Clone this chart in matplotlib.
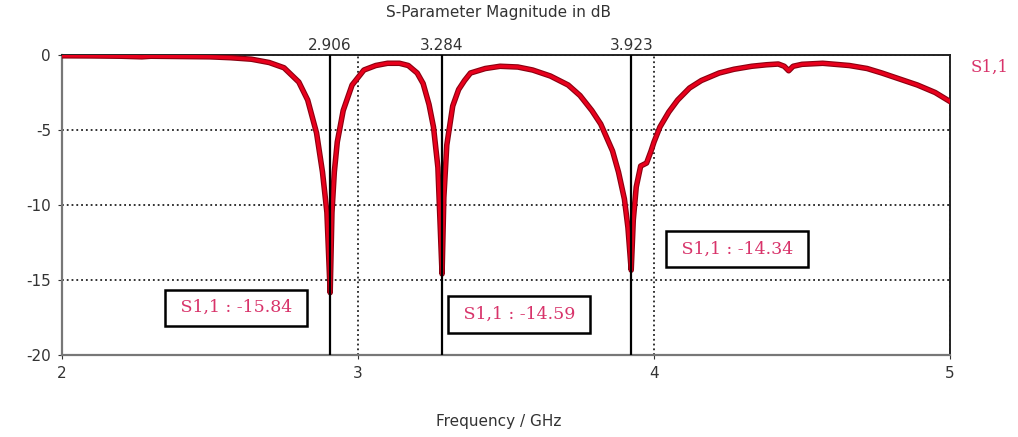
import matplotlib.pyplot as plt

plt.rcParams["axes.unicode_minus"] = False

# S1,1 magnitude (GHz, dB)
freq = [2.00, 2.10, 2.20, 2.27, 2.30, 2.40, 2.50, 2.57, 2.64, 2.70, 2.75, 2.80,
        2.83, 2.86, 2.88, 2.895, 2.906, 2.912, 2.92, 2.93, 2.95, 2.98, 3.02,
        3.06, 3.10, 3.14, 3.17, 3.20, 3.22, 3.24, 3.255, 3.27, 3.284, 3.29,
        3.30, 3.32, 3.34, 3.36, 3.38, 3.43, 3.48, 3.54, 3.59, 3.65, 3.71, 3.75,
        3.79, 3.82, 3.84, 3.86, 3.88, 3.90, 3.912, 3.923, 3.93, 3.94, 3.955,
        3.975, 3.99, 4.00, 4.02, 4.05, 4.08, 4.12, 4.16, 4.22, 4.27, 4.33,
        4.38, 4.42, 4.44, 4.455, 4.47, 4.50, 4.57, 4.66, 4.72, 4.77, 4.83,
        4.89, 4.95, 5.00]
s11 = [-0.05, -0.06, -0.08, -0.12, -0.08, -0.10, -0.12, -0.18, -0.28, -0.5,
       -0.85, -1.8, -3.0, -5.2, -7.8, -10.5, -15.84, -10.5, -7.8, -5.8, -3.7,
       -2.0, -1.0, -0.7, -0.55, -0.55, -0.7, -1.2, -1.9, -3.3, -4.8, -7.5,
       -14.59, -9.5, -6.0, -3.4, -2.3, -1.7, -1.2, -0.9, -0.75, -0.8, -1.0,
       -1.4, -2.0, -2.7, -3.7, -4.6, -5.5, -6.4, -7.8, -9.6, -11.5, -14.34,
       -11.0, -8.8, -7.4, -7.2, -6.4, -5.8, -4.8, -3.8, -3.0, -2.2, -1.7,
       -1.2, -0.95, -0.75, -0.65, -0.6, -0.75, -1.05, -0.75, -0.62, -0.55,
       -0.7, -0.9, -1.2, -1.6, -2.0, -2.5, -3.1]

marker_freq = [2.906, 3.284, 3.923]
marker_db = [-15.84, -14.59, -14.34]
# label box centres in data units
label_pos = [(2.588, -16.85), (3.545, -17.3), (4.28, -12.95)]

x_ticks = [2, 3, 4, 5]
y_ticks = [0, -5, -10, -15, -20]

LABEL_COLOR = "#d8336a"

fig = plt.figure(figsize=(10.18, 4.37), dpi=100)
ax = fig.add_axes([0.0609, 0.1876, 0.8723, 0.6865])

ax.set_xlim(2, 5)
ax.set_ylim(-20, 0)
ax.set_xticks(x_ticks)
ax.set_yticks(y_ticks)
ax.tick_params(length=3, labelsize=11, colors="#333333", pad=5)
ax.grid(True, ls=":", color="#222222", lw=1.3)

for side in ("left", "bottom"):
    ax.spines[side].set_color("#777777")
    ax.spines[side].set_linewidth(1.6)
for side in ("top", "right"):
    ax.spines[side].set_color("#222222")
    ax.spines[side].set_linewidth(1.4)

ax.plot(freq, s11, color="#8a0010", lw=4.0, solid_joinstyle="round", zorder=3)
ax.plot(freq, s11, color="#e8001c", lw=2.4, solid_joinstyle="round", zorder=4)

for f, db, (lx, ly) in zip(marker_freq, marker_db, label_pos):
    ax.axvline(f, color="black", lw=1.6, zorder=5)
    ax.text(f, 0.15, f"{f:.3f}", ha="center", va="bottom", fontsize=11,
            color="#333333")
    ax.text(lx, ly, f" S1,1 : {db:.2f} ", ha="center", va="center",
            fontsize=12.5, family="DejaVu Serif", color=LABEL_COLOR, zorder=6,
            bbox=dict(boxstyle="square,pad=0.55", fc="white", ec="black",
                      lw=1.8))

ax.text(5.07, -0.8, "S1,1", ha="left", va="center", fontsize=12,
        family="DejaVu Serif", color=LABEL_COLOR)

fig.text(0.49, 0.972, "S-Parameter Magnitude in dB", ha="center", va="center",
         fontsize=11, color="#333333")
fig.text(0.49, 0.035, "Frequency / GHz", ha="center", va="center",
         fontsize=11, color="#333333")

fig.savefig("out.png", dpi=100)
